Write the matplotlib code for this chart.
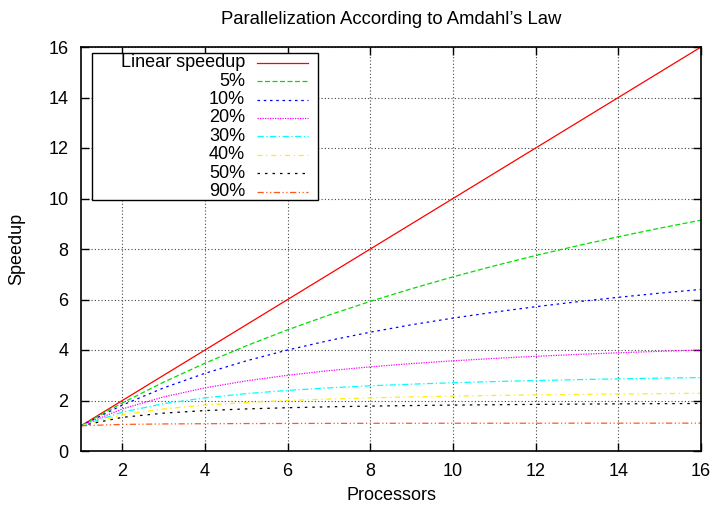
import matplotlib
matplotlib.use("Agg")
import matplotlib.pyplot as plt
from matplotlib.lines import Line2D
from matplotlib.patches import Rectangle

plt.rcParams['font.family'] = ['Liberation Sans', 'DejaVu Sans']

# processor counts and speedups for each serial fraction
processors = list(range(1, 17))
linear = [1, 2, 3, 4, 5, 6, 7, 8, 9, 10, 11, 12, 13, 14, 15, 16]
serial_5 = [1.0, 1.905, 2.727, 3.478, 4.167, 4.8, 5.385, 5.926, 6.429, 6.897,
            7.333, 7.742, 8.125, 8.485, 8.824, 9.143]
serial_10 = [1.0, 1.818, 2.5, 3.077, 3.571, 4.0, 4.375, 4.706, 5.0, 5.263,
             5.5, 5.714, 5.909, 6.087, 6.25, 6.4]
serial_20 = [1.0, 1.667, 2.143, 2.5, 2.778, 3.0, 3.182, 3.333, 3.462, 3.571,
             3.667, 3.75, 3.824, 3.889, 3.947, 4.0]
serial_30 = [1.0, 1.538, 1.875, 2.105, 2.273, 2.4, 2.5, 2.581, 2.647, 2.703,
             2.75, 2.791, 2.826, 2.857, 2.885, 2.909]
serial_40 = [1.0, 1.429, 1.667, 1.818, 1.923, 2.0, 2.059, 2.105, 2.143, 2.174,
             2.2, 2.222, 2.241, 2.258, 2.273, 2.286]
serial_50 = [1.0, 1.333, 1.5, 1.6, 1.667, 1.714, 1.75, 1.778, 1.8, 1.818,
             1.833, 1.846, 1.857, 1.867, 1.875, 1.882]
serial_90 = [1.0, 1.053, 1.071, 1.081, 1.087, 1.091, 1.094, 1.096, 1.098, 1.099,
             1.1, 1.101, 1.102, 1.102, 1.103, 1.103]

labels = ['Linear speedup', '5%', '10%', '20%', '30%', '40%', '50%', '90%']
series = [linear, serial_5, serial_10, serial_20, serial_30, serial_40, serial_50, serial_90]
colors = ['#ff0000', '#00e000', '#0000ff', '#ff00ff', '#00ffff', '#ffee00', '#000000', '#ff5a1e']
dashes = [None, (4, 2), (2, 3), (1, 1), (5, 2, 1, 2), (4, 3, 1, 3), (2, 4), (5, 2, 1, 2, 1, 2)]

W, H = 717, 507
FS = 13
fig = plt.figure(figsize=(W / 100, H / 100), dpi=100)
ax = fig.add_axes([81 / W, 1 - 451 / H, 620 / W, 404 / H])

for ys, c, d in zip(series, colors, dashes):
    ln, = ax.plot(processors, ys, color=c, lw=0.9)
    if d is not None:
        ln.set_dashes(d)

ax.set_xlim(1, 16)
ax.set_ylim(0, 16)
ax.set_xticks(range(2, 17, 2))
ax.set_yticks(range(0, 17, 2))
ax.grid(True, color='#444444', linestyle=(0, (1, 2)), lw=0.8)
ax.tick_params(direction='in', length=6, width=1, top=True, right=True,
               labelsize=FS, pad=9)
for s in ax.spines.values():
    s.set_linewidth(1.2)

fig.text(391 / W, 1 - 20 / H, 'Parallelization According to Amdahl\u2019s Law',
         ha='center', va='center', fontsize=13.3)
fig.text(391 / W, 1 - 496 / H, 'Processors', ha='center', va='center', fontsize=FS)
fig.text(17 / W, 1 - 249 / H, 'Speedup', ha='center', va='center', fontsize=FS,
         rotation=90)

# key box in the upper left
fig.patches.append(Rectangle((92 / W, 1 - 200 / H), 226 / W, 147 / H,
                             transform=fig.transFigure, facecolor='white',
                             edgecolor='black', lw=1.0, zorder=5))
row0, step = 62.7, 18.43
for i, (lab, c, d) in enumerate(zip(labels, colors, dashes)):
    py = 1 - (row0 + i * step) / H
    fig.text(245 / W, py, lab, ha='right', va='center', fontsize=FS, zorder=6)
    ln = Line2D([257 / W, 308 / W], [py, py], transform=fig.transFigure,
                color=c, lw=0.9, zorder=6)
    if d is not None:
        ln.set_dashes(d)
    fig.lines.append(ln)

fig.savefig('out.png', dpi=100)
